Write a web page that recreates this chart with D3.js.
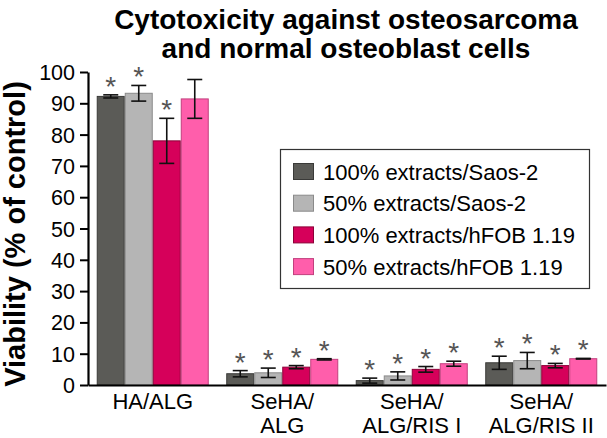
<!DOCTYPE html>
<html><head><meta charset="utf-8">
<script src="https://cdn.jsdelivr.net/npm/d3@7"></script>
<style>body{margin:0;background:#fff}svg{display:block}</style>
</head><body>
<svg id="c" width="607" height="438"></svg>
<script>
const categories = [["HA/ALG"], ["SeHA/", "ALG"], ["SeHA/", "ALG/RIS I"], ["SeHA/", "ALG/RIS II"]];
const seriesNames = ["100% extracts/Saos-2", "50% extracts/Saos-2", "100% extracts/hFOB 1.19", "50% extracts/hFOB 1.19"];
const saos100 = [92.2, 3.6, 1.4, 7.1];
const saos100Err = [0.5, 1.0, 0.8, 2.1];
const saos50 = [93.2, 3.9, 2.9, 7.8];
const saos50Err = [2.5, 1.5, 1.3, 2.6];
const hfob100 = [78.0, 5.7, 5.0, 6.2];
const hfob100Err = [7.2, 0.5, 0.9, 0.7];
const hfob50 = [91.4, 8.2, 6.8, 8.4];
const hfob50Err = [6.2, 0.2, 0.8, 0.1];
const significant = [[true, true, true, true], [true, true, true, true], [true, true, true, true], [false, true, true, true]];
const yTicks = [0, 10, 20, 30, 40, 50, 60, 70, 80, 90, 100];

const values = [saos100, saos50, hfob100, hfob50];
const errs = [saos100Err, saos50Err, hfob100Err, hfob50Err];
const fills = ["#5b5b57", "#b5b5b5", "#d6005a", "#ff5eab"];
const strokes = ["#3a3a38", "#8a8a8a", "#8c0038", "#c2407e"];
const font = "'Liberation Sans', Arial, sans-serif";

const svg = d3.select("#c");
const x0 = d3.scaleBand().domain(d3.range(categories.length)).range([88, 606]).paddingInner(0.135).paddingOuter(0.0675);
const x1 = d3.scaleBand().domain(d3.range(seriesNames.length)).range([0, x0.bandwidth()]);
const y = d3.scaleLinear().domain([0, 100]).range([385, 72]);

// title
svg.append("text").attr("x", 346).attr("y", 29).attr("text-anchor", "middle")
  .attr("font-family", font).attr("font-weight", "bold").attr("font-size", 28).text("Cytotoxicity against osteosarcoma");
svg.append("text").attr("x", 346).attr("y", 58).attr("text-anchor", "middle")
  .attr("font-family", font).attr("font-weight", "bold").attr("font-size", 28).text("and normal osteoblast cells");

// y label
svg.append("text").attr("transform", "translate(25,234) rotate(-90)").attr("text-anchor", "middle")
  .attr("font-family", font).attr("font-weight", "bold").attr("font-size", 29).text("Viability (% of control)");

// bars
const groups = svg.append("g");
categories.forEach((c, ci) => {
  seriesNames.forEach((s, si) => {
    const v = values[si][ci], e = errs[si][ci];
    const bx = x0(ci) + x1(si);
    groups.append("rect").attr("x", bx + 0.5).attr("y", y(v)).attr("width", x1.bandwidth() - 1).attr("height", y(0) - y(v))
      .attr("fill", fills[si]).attr("stroke", strokes[si]).attr("stroke-width", 1);
    const cx = bx + x1.bandwidth() / 2;
    const g = groups.append("g").attr("stroke", "#111").attr("stroke-width", 1.6);
    g.append("line").attr("x1", cx).attr("x2", cx).attr("y1", y(v + e)).attr("y2", y(Math.max(0, v - e)));
    g.append("line").attr("x1", cx - 7.5).attr("x2", cx + 7.5).attr("y1", y(v + e)).attr("y2", y(v + e));
    g.append("line").attr("x1", cx - 7.5).attr("x2", cx + 7.5).attr("y1", y(Math.max(0, v - e))).attr("y2", y(Math.max(0, v - e)));
    if (significant[si][ci]) {
      groups.append("text").attr("x", cx).attr("y", y(v + e) + 1).attr("text-anchor", "middle")
        .attr("font-family", font).attr("font-size", 28).attr("fill", "#555").text("*");
    }
  });
});

// y axis
const yAxis = svg.append("g").attr("transform", "translate(88,0)")
  .call(d3.axisLeft(y).tickValues(yTicks).tickSize(8).tickPadding(5).tickSizeOuter(0));
yAxis.select(".domain").attr("stroke", "#000").attr("stroke-width", 2.2);
yAxis.selectAll(".tick line").attr("stroke", "#000").attr("stroke-width", 2);
yAxis.selectAll(".tick text").attr("font-family", font).attr("font-size", 21.5).attr("fill", "#000").attr("dy", "0.35em");

// x axis
const xAxis = svg.append("g").attr("transform", "translate(0,385)")
  .call(d3.axisBottom(x0).tickSize(0).tickSizeOuter(0).tickFormat(""));
xAxis.select(".domain").attr("stroke", "#000").attr("stroke-width", 2.2);
xAxis.selectAll(".tick").each(function(d) {
  const t = d3.select(this).append("text").attr("text-anchor", "middle").attr("font-family", font)
    .attr("font-size", 22).attr("fill", "#000");
  categories[d].forEach((line, li) => {
    t.append("tspan").attr("x", 0).attr("y", 24 + li * 24).text(line);
  });
});

// legend
const lg = svg.append("g");
lg.append("rect").attr("x", 280.5).attr("y", 149.5).attr("width", 309).attr("height", 139)
  .attr("fill", "#fff").attr("stroke", "#333").attr("stroke-width", 1.2);
seriesNames.forEach((s, i) => {
  const ry = 163 + i * 31.7;
  lg.append("rect").attr("x", 293.5).attr("y", ry + 0.5).attr("width", 20).attr("height", 16)
    .attr("fill", fills[i]).attr("stroke", strokes[i]).attr("stroke-width", 1);
  lg.append("text").attr("x", 323).attr("y", ry + 16.5).attr("font-family", font).attr("font-size", 22)
    .attr("fill", "#000").text(s);
});
</script>
</body></html>
